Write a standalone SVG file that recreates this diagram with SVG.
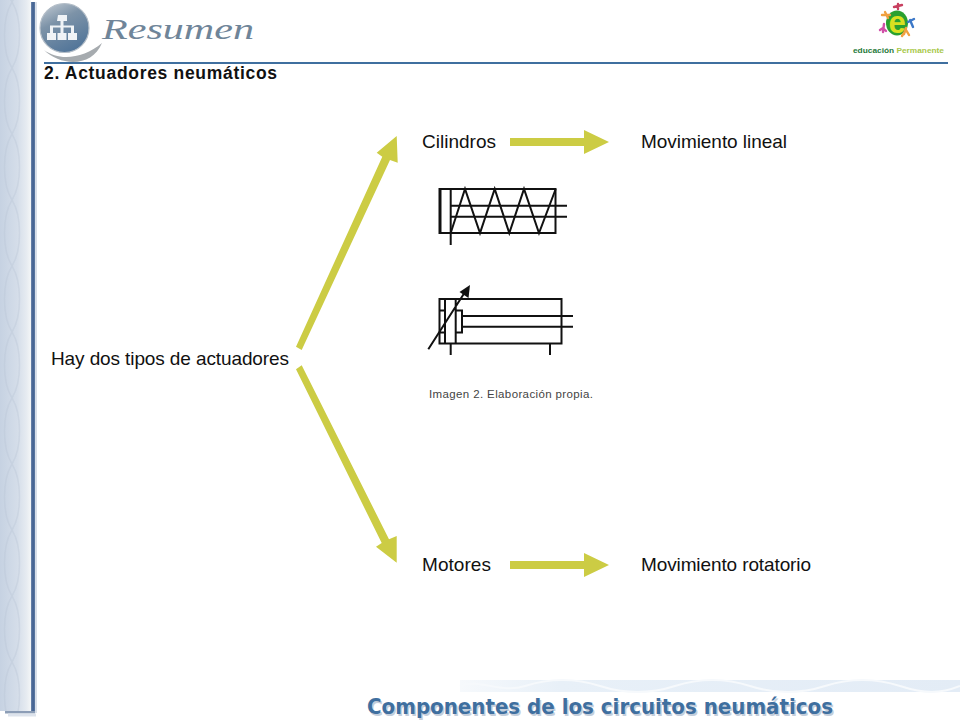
<svg xmlns="http://www.w3.org/2000/svg" width="960" height="720" viewBox="0 0 960 720">
<style>
.t{font-family:"Liberation Sans",Arial,sans-serif;font-size:19px;fill:#111}
.s{fill:none;stroke:#111;stroke-width:2}
.fat{fill:#cccc44}
.fig{fill:none;stroke-width:2.4;stroke-linecap:round}
</style>
<defs>
<linearGradient id="band" x1="0" x2="1" y1="0" y2="0"><stop offset="0" stop-color="#c6d2e2"/><stop offset=".55" stop-color="#d4dde9"/><stop offset=".85" stop-color="#e6ebf1"/><stop offset="1" stop-color="#f4f6f7"/></linearGradient>
<linearGradient id="wb" x1="0" x2="1" y1="0" y2="0"><stop offset="0" stop-color="#f6f9fc"/><stop offset=".2" stop-color="#e8f0f8"/><stop offset="1" stop-color="#e3ecf6"/></linearGradient>
<linearGradient id="ball" x1="0.2" y1="0" x2="0.7" y2="1"><stop offset="0" stop-color="#b9c3cd"/><stop offset=".35" stop-color="#7d93a8"/><stop offset="1" stop-color="#4f7398"/></linearGradient>
<linearGradient id="dark" x1="0" x2="1" y1="0" y2="0"><stop offset="0" stop-color="#6f88ad"/><stop offset=".5" stop-color="#3f5f8f"/><stop offset="1" stop-color="#5f7ba3"/></linearGradient>
<pattern id="lens" x="0" y="2" width="31" height="66" patternUnits="userSpaceOnUse">
<path d="M12 0C2 16 2 50 12 66M12 0C22 16 22 50 12 66" fill="none" stroke="#b6c3d3" stroke-width="1.6" opacity=".35"/>
</pattern>
</defs>
<rect width="960" height="720" fill="#fff"/>
<g id="frame">
<rect x="0" y="0" width="31" height="711" fill="url(#band)"/>
<rect x="0" y="0" width="31" height="711" fill="url(#lens)"/>
<rect x="31" y="2" width="4" height="709" fill="url(#dark)"/>
<rect x="35" y="2" width="2" height="711" fill="#d8dfe9"/>
<rect x="5" y="711" width="30" height="2.5" fill="#8c9db6"/>
<rect x="8" y="713.5" width="28" height="3" fill="#dde3ec"/>
<rect x="460" y="680" width="500" height="12" fill="url(#wb)"/>
<path d="M460 686C480 678 500 694 525 686S575 678 600 686S650 694 675 686S725 678 750 686S800 694 825 686S875 678 900 686S940 694 960 686" fill="none" stroke="#f6f9fc" stroke-width="2"/>
<rect x="44" y="62" width="904" height="2" fill="#3f6f9f"/>
</g>
<g id="logo-resumen">
<path d="M44 50C60 62 84 58 102 43C92 68 60 66 44 50Z" fill="#a6abaf"/>
<circle cx="64.5" cy="28" r="24.5" fill="url(#ball)" stroke="#b4bec8" stroke-width="1.2"/>
<path d="M58 15h9v6h-3.5v4.500h10.500v7.500h3v7h-9v-7h3v-5.500h-7.500v5.500h3v7h-9v-7h3v-5.500h-7.500v5.500h3v7h-9v-7h3v-7.500h10.500v-4.500h-3.500z" fill="#f0f3f6"/>
<text x="102" y="39" font-family="'Liberation Serif',serif" font-style="italic" font-size="29" textLength="152" lengthAdjust="spacingAndGlyphs" fill="#6f8599">Resumen</text>
</g>
<g id="logo-ep">
<ellipse cx="897" cy="23" rx="11" ry="12.500" fill="#2aa030"/>
<path class="fig" stroke="#f0a040" d="M885 12l3 6M882 15l8 0M906 28l-2 6M902 36l4-6 3 5"/>
<path class="fig" stroke="#d050a8" d="M884 24l-1 8M880 30l3-2 3 3"/>
<path class="fig" stroke="#c84060" d="M898 4v5M894 7l8-2"/>
<path class="fig" stroke="#3c78c8" d="M910 20l3 7M908 22l6-3"/>
<text x="897" y="33" text-anchor="middle" font-family="'Liberation Sans',sans-serif" font-weight="bold" font-size="31" fill="#d8e020">e</text>
<text x="853" y="53" font-family="'Liberation Sans',sans-serif" font-weight="bold" font-size="7.500" textLength="91" lengthAdjust="spacingAndGlyphs"><tspan fill="#1f7a3a">educación </tspan><tspan fill="#a8c84a">Permanente</tspan></text>
</g>
<g id="titles">
<text x="44" y="79" font-family="'Liberation Sans',Arial,sans-serif" font-weight="bold" font-size="17.500" fill="#111" textLength="233">2. Actuadores neumáticos</text>
<text x="367" y="714" font-family="'DejaVu Sans',sans-serif" font-weight="bold" font-size="22" fill="#c4cedb" textLength="466" lengthAdjust="spacingAndGlyphs" transform="translate(1.500 1.500)">Componentes de los circuitos neumáticos</text>
<text x="367" y="714" font-family="'DejaVu Sans',sans-serif" font-weight="bold" font-size="22" fill="#3f6f9f" textLength="466" lengthAdjust="spacingAndGlyphs">Componentes de los circuitos neumáticos</text>
</g>
<g id="connectors">
<path class="fat" d="M510 138H584V130L609 142L584 154V146H510Z"/>
<path class="fat" d="M510 561H584V553L609 565L584 577V569H510Z"/>
<path class="fat" d="M296 346.700L382.300 156.700L376.700 152.700L396.700 136L397.700 162.700L390 160L301.700 350Z"/>
<path class="fat" d="M296 369.300L381.700 543L376 546.700L396.700 562.700V536L389 539.300L301.700 365.300Z"/>
</g>
<g id="n-intro"><text class="t" x="51" y="365" textLength="238">Hay dos tipos de actuadores</text></g>
<g id="n-cilindros"><text class="t" x="422" y="148" textLength="74">Cilindros</text></g>
<g id="n-lineal"><text class="t" x="641" y="148" textLength="146">Movimiento lineal</text></g>
<g id="n-motores"><text class="t" x="422" y="571" textLength="69">Motores</text></g>
<g id="n-rotatorio"><text class="t" x="641" y="571" textLength="170">Movimiento rotatorio</text></g>
<g id="n-caption"><text x="429" y="398" font-family="'Liberation Sans',Arial,sans-serif" font-size="11.500" fill="#444" textLength="164">Imagen 2. Elaboración propia.</text></g>
<g id="n-cyl-spring">
<rect class="s" x="439.500" y="189" width="116" height="44"/>
<path class="s" d="M440.500 188v46"/>
<path class="s" d="M450.700 189V245M451 205.700H567M451 216.700H567"/>
<path class="s" d="M450.700 233L465 189L480 233L494.700 189L509.300 233L524 189L539 233L555.700 189"/>
</g>
<g id="n-cyl-adjust">
<rect class="s" x="439.500" y="299" width="122" height="44.500"/>
<path class="s" d="M445 299V343.500M455.700 299V343.500M439.500 310.500H445M439.500 332.500H445M455.700 310.500H462V332.500H455.700M462 316H573M462 326.700H573M450.700 343.500V355M550 343.500V355M428.300 349.300L465 292"/>
<path d="M470 285L468.500 298L459.500 292Z" fill="#111"/>
</g>
</svg>
